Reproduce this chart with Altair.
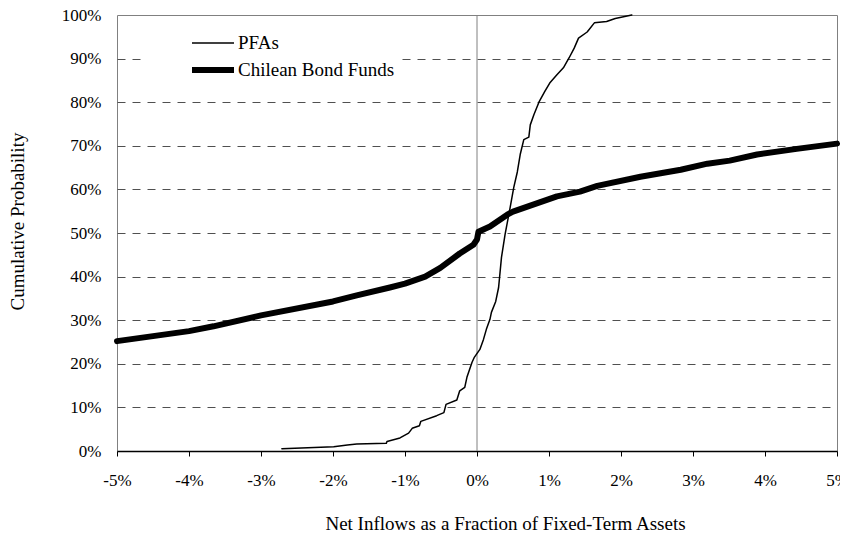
import altair as alt
import pandas as pd

# PFAs cumulative distribution (x in %, y in %)
pfa_x = [-2.71, -1.99, -1.80, -1.67, -1.26, -1.25, -1.07, -0.95, -0.90, -0.80,
         -0.78, -0.56, -0.46, -0.43, -0.28, -0.24, -0.17, -0.14, -0.07, -0.04,
         0.04, 0.09, 0.13, 0.18, 0.20, 0.26, 0.30, 0.34, 0.39, 0.46,
         0.51, 0.56, 0.60, 0.65, 0.72, 0.74, 0.79, 0.86, 0.94, 1.01,
         1.11, 1.20, 1.28, 1.35, 1.41, 1.53, 1.63, 1.80, 1.92, 2.15]
pfa_y = [0.5, 1.0, 1.4, 1.6, 1.75, 2.2, 3.0, 4.1, 5.2, 5.8,
         6.8, 8.1, 8.8, 10.7, 11.7, 13.8, 14.6, 16.9, 20.3, 21.4,
         23.3, 25.6, 27.9, 30.2, 31.8, 34.3, 37.5, 44.4, 49.7, 55.8,
         60.4, 64.0, 68.0, 71.4, 72.0, 74.8, 77.1, 80.0, 82.4, 84.4,
         86.3, 87.9, 90.2, 92.4, 94.7, 96.1, 98.2, 98.5, 99.2, 100.0]

# Chilean Bond Funds cumulative distribution
bond_x = [-5.0, -4.0, -3.66, -3.0, -2.0, -1.67, -1.21, -1.0, -0.72, -0.51,
          -0.24, -0.05, 0.0, 0.02, 0.18, 0.42, 0.5, 1.11, 1.43, 1.67,
          2.27, 2.83, 3.2, 3.51, 3.89, 4.44, 5.0]
bond_y = [25.2, 27.5, 28.6, 31.1, 34.3, 35.7, 37.5, 38.4, 40.0, 42.0,
          45.3, 47.3, 48.5, 50.3, 51.5, 54.2, 54.9, 58.4, 59.5, 60.8,
          62.9, 64.5, 65.9, 66.6, 68.0, 69.3, 70.5]

series_names = ["PFAs", "Chilean Bond Funds"]
x_ticks = [-5, -4, -3, -2, -1, 0, 1, 2, 3, 4, 5]
y_ticks = [0, 10, 20, 30, 40, 50, 60, 70, 80, 90, 100]

rows = []
for i, (x, y) in enumerate(zip(pfa_x, pfa_y)):
    rows.append({"series": series_names[0], "x": x, "y": y, "i": i})
for i, (x, y) in enumerate(zip(bond_x, bond_y)):
    rows.append({"series": series_names[1], "x": x, "y": y, "i": i})
df = pd.DataFrame(rows)

FONT = "Liberation Serif"

x_enc = alt.X(
    "x:Q",
    scale=alt.Scale(domain=[-5, 5], nice=False),
    axis=alt.Axis(
        values=x_ticks,
        labelExpr="datum.value + '%'",
        title="Net Inflows as a Fraction of Fixed-Term Assets",
        titleFontSize=19,
        grid=False,
        domainColor="black",
        domainWidth=1.5,
        tickColor="black",
        tickSize=5,
        labelPadding=16,
        labelFlush=False,
        titleX=388,
        titleY=78,
        titleBaseline="alphabetic",
        titleAlign="center",
    ),
)

y_enc = alt.Y(
    "y:Q",
    scale=alt.Scale(domain=[0, 100], nice=False),
    axis=alt.Axis(
        values=y_ticks,
        labelExpr="datum.value + '%'",
        title="Cumulative Probability",
        titleFontSize=19,
        grid=True,
        gridDash=[8, 7],
        gridColor="#505050",
        gridWidth=1,
        gridOpacity=alt.condition("datum.value <= 0 || datum.value >= 100", alt.value(0), alt.value(1)),
        domain=False,
        ticks=False,
        labelPadding=16,
        labelBaseline="middle",
        titleX=-100,
        titleY=206,
        titleAngle=270,
        titleBaseline="middle",
        titleAlign="center",
    ),
)

zero_line = alt.Chart(pd.DataFrame({"x": [0]})).mark_rule(
    color="#808080", strokeWidth=1
).encode(x=alt.X("x:Q"))

lines = alt.Chart(df).mark_line(
    color="black", strokeCap="round", strokeJoin="round"
).encode(
    x=x_enc,
    y=y_enc,
    strokeWidth=alt.StrokeWidth(
        "series:N",
        scale=alt.Scale(domain=series_names, range=[1.5, 6]),
        legend=alt.Legend(
            orient="none",
            legendX=25,
            legendY=14,
            title=None,
            symbolType="stroke",
            symbolSize=1764,
            symbolStrokeColor="black",
            labelFont=FONT,
            labelFontSize=19,
            labelColor="black",
            labelExpr="datum.label + '         '",
            fillColor="white",
            padding=4,
            symbolOffset=43,
            labelOffset=1,
            clipHeight=20,
            rowPadding=7,
        ),
    ),
    order=alt.Order("i:Q"),
)

chart = alt.layer(zero_line, lines).properties(
    width=720,
    height=436,
    padding={"left": 109, "top": 7, "right": 3, "bottom": 84},
    autosize=alt.AutoSizeParams(type="none"),
).configure_view(
    stroke="#808080", strokeWidth=1
).configure_axis(
    labelFont=FONT,
    titleFont=FONT,
    labelFontSize=17,
    labelColor="black",
    titleColor="black",
    titleFontWeight="normal",
)

chart.save("out.html", embed_options={"renderer": "svg", "actions": False})
